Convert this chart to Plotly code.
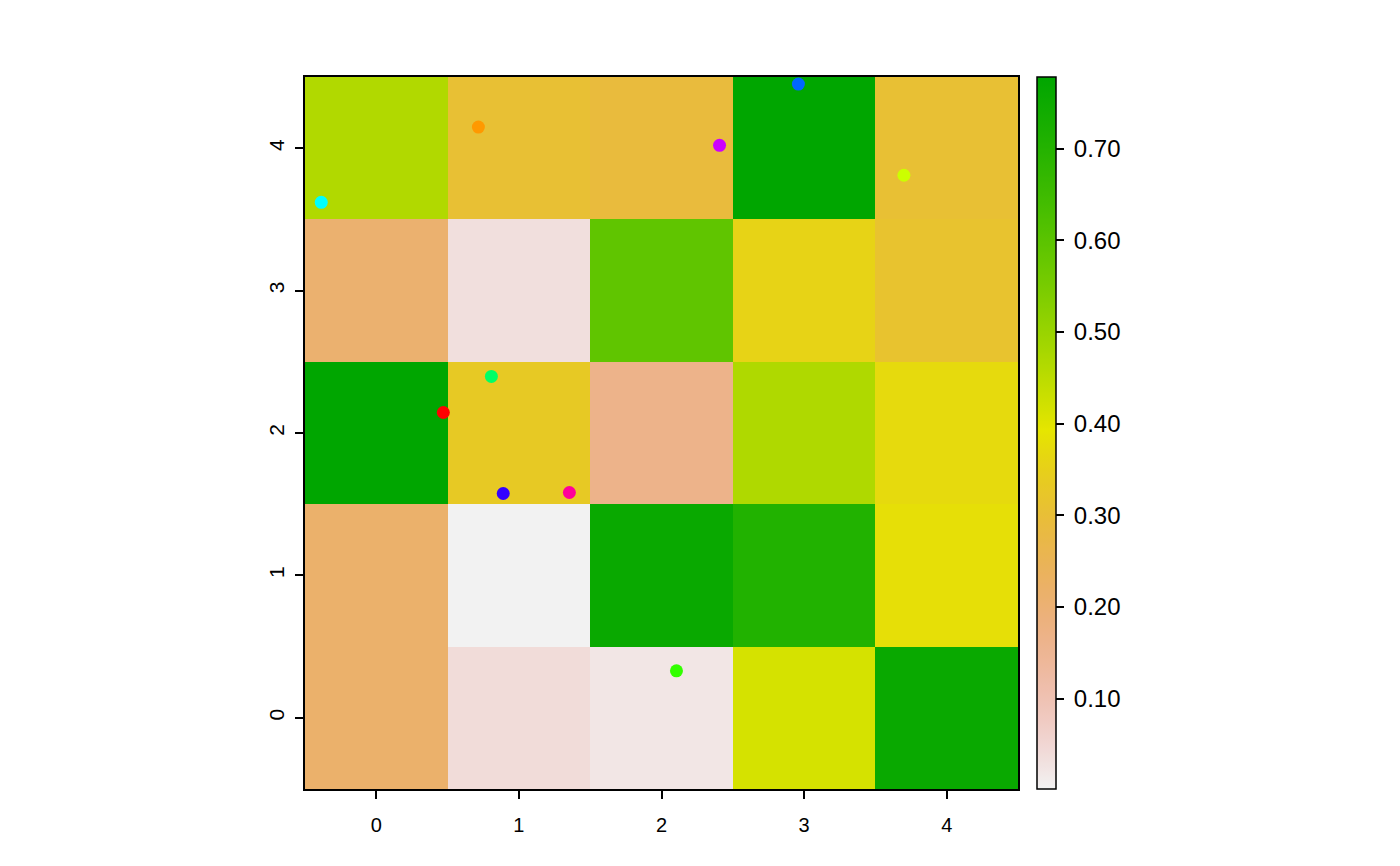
import colorsys
import plotly.graph_objects as go

# Grid values: rows are y = 0..4, columns are x = 0..4
x_vals = [0, 1, 2, 3, 4]
y_vals = [0, 1, 2, 3, 4]
row_y0 = [0.216, 0.040, 0.021, 0.414, 0.756]
row_y1 = [0.216, 0.0016, 0.756, 0.706, 0.380]
row_y2 = [0.778, 0.332, 0.165, 0.468, 0.371]
row_y3 = [0.208, 0.033, 0.590, 0.356, 0.313]
row_y4 = [0.465, 0.305, 0.290, 0.778, 0.305]
z = [row_y0, row_y1, row_y2, row_y3, row_y4]

# Points
pt_x = [0.47, 0.716, 3.70, 2.105, 0.807, -0.386, 2.96, 0.89, 2.407, 1.354]
pt_y = [2.144, 4.148, 3.81, 0.33, 2.397, 3.62, 4.45, 1.575, 4.02, 1.582]
pt_colors = ["#FF0000", "#FF9900", "#CCFF00", "#33FF00", "#00FF66",
             "#00FFFF", "#0066FF", "#3300FF", "#CC00FF", "#FF0099"]

cb_ticks = [0.1, 0.2, 0.3, 0.4, 0.5, 0.6, 0.7]
cb_ticklabels = ["0.10", "0.20", "0.30", "0.40", "0.50", "0.60", "0.70"]


def terrain_colors(n):
    k = n // 2
    def seq(a, b, m):
        return [a + (b - a) * i / (m - 1) for i in range(m)] if m > 1 else [a]
    h1 = seq(4 / 12, 2 / 12, k); s1 = seq(1, 1, k); v1 = seq(0.65, 0.9, k)
    m = n - k + 1
    h2 = seq(2 / 12, 0, m)[1:]; s2 = seq(1, 0, m)[1:]; v2 = seq(0.9, 0.95, m)[1:]
    cols = []
    for h, s, v in zip(h1 + h2, s1 + s2, v1 + v2):
        r, g, b = colorsys.hsv_to_rgb(h, s, v)
        cols.append("#%02X%02X%02X" % (round(r * 255), round(g * 255), round(b * 255)))
    return cols


cols = terrain_colors(255)[::-1]
colorscale = [[i / (len(cols) - 1), c] for i, c in enumerate(cols)]

zmin = min(min(r) for r in z)
zmax = max(max(r) for r in z)

fig = go.Figure()
fig.add_trace(go.Heatmap(
    x=x_vals, y=y_vals, z=z, colorscale=colorscale, zmin=zmin, zmax=zmax,
    hoverinfo="skip",
    colorbar=dict(
        x=1.0266, xanchor="left", y=0, yanchor="bottom", len=1, lenmode="fraction",
        thickness=19, thicknessmode="pixels",
        outlinecolor="black", outlinewidth=1.5,
        tickvals=cb_ticks, ticktext=["\u2009" + t for t in cb_ticklabels],
        ticks="outside", ticklen=8, tickcolor="black", tickwidth=1.5,
        tickfont=dict(family="Liberation Sans, Arial", size=24, color="black"),
        xpad=0, ypad=0,
    ),
))
fig.add_trace(go.Scatter(
    x=pt_x, y=pt_y, mode="markers",
    marker=dict(color=pt_colors, size=13, line=dict(width=0)),
    showlegend=False, hoverinfo="skip",
))

axis_common = dict(
    showgrid=False, zeroline=False, showline=True, linecolor="black", linewidth=1.5,
    mirror=True, ticks="outside", ticklen=8, tickcolor="black", tickwidth=1.5,
    tickvals=[0, 1, 2, 3, 4],
)
fig.update_xaxes(range=[-0.5, 4.5], ticklabelstandoff=9,
                 tickfont=dict(family="Liberation Sans, Arial", size=20, color="black"),
                 **axis_common)
fig.update_yaxes(range=[-0.5, 4.5], tickangle=-90, ticklabelstandoff=3,
                 tickfont=dict(family="Liberation Sans, Arial", size=21, color="black"),
                 **axis_common)

fig.update_layout(
    width=1400, height=866,
    margin=dict(l=297, r=390, t=69, b=85, autoexpand=False),
    paper_bgcolor="white", plot_bgcolor="white",
    showlegend=False,
)

fig.write_html("out.html")
